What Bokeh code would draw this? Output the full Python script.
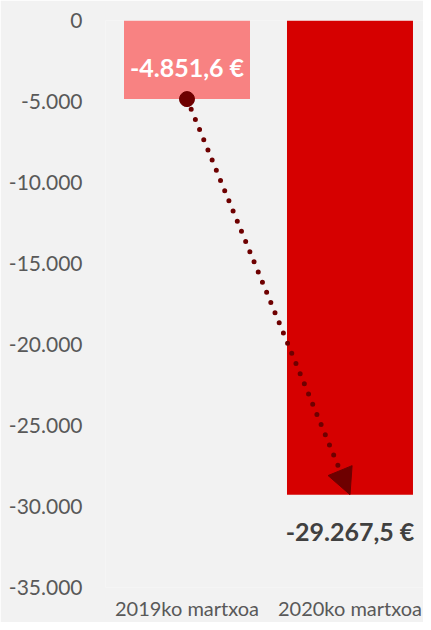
from bokeh.plotting import figure
from bokeh.models import Range1d, FixedTicker, Arrow, NormalHead, ColumnDataSource
from bokeh.core.properties import value
from bokeh.embed import file_html
from bokeh.resources import INLINE

categories = ["2019ko martxoa", "2020ko martxoa"]
values = [-4851.6, -29267.5]
bar_colors = ["#F88282", "#D60000"]
y_ticks = [0, -5000, -10000, -15000, -20000, -25000, -30000, -35000]
y_tick_labels = ["0", "-5.000", "-10.000", "-15.000", "-20.000", "-25.000", "-30.000", "-35.000"]


def eur(v):
    s = f"{v:,.1f}".replace(",", "X").replace(".", ",").replace("X", ".")
    return s + " €"


xs = [i + 0.5 for i in range(len(categories))]
labels = [eur(v) for v in values]

BG = "#F2F2F2"
FONT = "Lato"

p = figure(width=423, height=622,
           x_range=Range1d(0, 1.951), y_range=Range1d(y_ticks[-1], y_ticks[0]),
           output_backend="svg", toolbar_location=None,
           min_border_left=105, min_border_right=0, min_border_top=20, min_border_bottom=32)
p.background_fill_color = BG
p.border_fill_color = BG
p.outline_line_color = None

src = ColumnDataSource(dict(x=xs, top=[0] * len(values), bottom=values,
                            color=bar_colors, label=labels))
p.vbar(x="x", width=0.773, top="top", bottom="bottom", fill_color="color",
       line_color=None, source=src)

# axes
p.yaxis.ticker = FixedTicker(ticks=y_ticks)
p.yaxis.major_label_overrides = {t: l for t, l in zip(y_ticks, y_tick_labels)}
p.yaxis.axis_line_color = None
p.yaxis.major_tick_line_color = None
p.yaxis.minor_tick_line_color = None
p.yaxis.major_tick_out = 0
p.yaxis.major_label_standoff = 23
p.yaxis.major_label_text_font = FONT
p.yaxis.major_label_text_font_size = "21px"
p.yaxis.major_label_text_color = "#595959"

p.xaxis.ticker = FixedTicker(ticks=xs)
p.xaxis.major_label_overrides = {x: c for x, c in zip(xs, categories)}
p.xaxis.axis_line_color = None
p.xaxis.major_tick_line_color = None
p.xaxis.minor_tick_line_color = None
p.xaxis.major_tick_out = 0
p.xaxis.major_label_standoff = 8
p.xaxis.major_label_text_font = FONT
p.xaxis.major_label_text_font_size = "20px"
p.xaxis.major_label_text_color = "#595959"

p.xgrid.grid_line_color = None
p.ygrid.ticker = FixedTicker(ticks=[0])
p.ygrid.grid_line_color = "#D9D9D9"
p.ygrid.grid_line_width = 2

# data labels
p.text(x=[xs[0]], y=[values[0]], text=[labels[0]], y_offset=-32,
       text_align="center", text_baseline="middle", text_font=value(FONT),
       text_font_style="bold", text_font_size="25px", text_color="white")
p.text(x=[xs[1]], y=[values[1]], text=[labels[1]], y_offset=36,
       text_align="center", text_baseline="middle", text_font=value(FONT),
       text_font_style="bold", text_font_size="25px", text_color="#404040")

# arrow
DARK = "#6E0000"
p.add_layout(Arrow(end=NormalHead(size=26, fill_color=DARK, line_color=DARK),
                   x_start=xs[0], y_start=values[0], x_end=xs[1], y_end=values[1],
                   line_color=DARK, line_width=5, line_dash="0 11", line_cap="round"))
p.scatter(x=[xs[0]], y=[values[0]], size=15, fill_color=DARK, line_color=DARK)

open("out.html", "w").write(file_html(p, INLINE))
